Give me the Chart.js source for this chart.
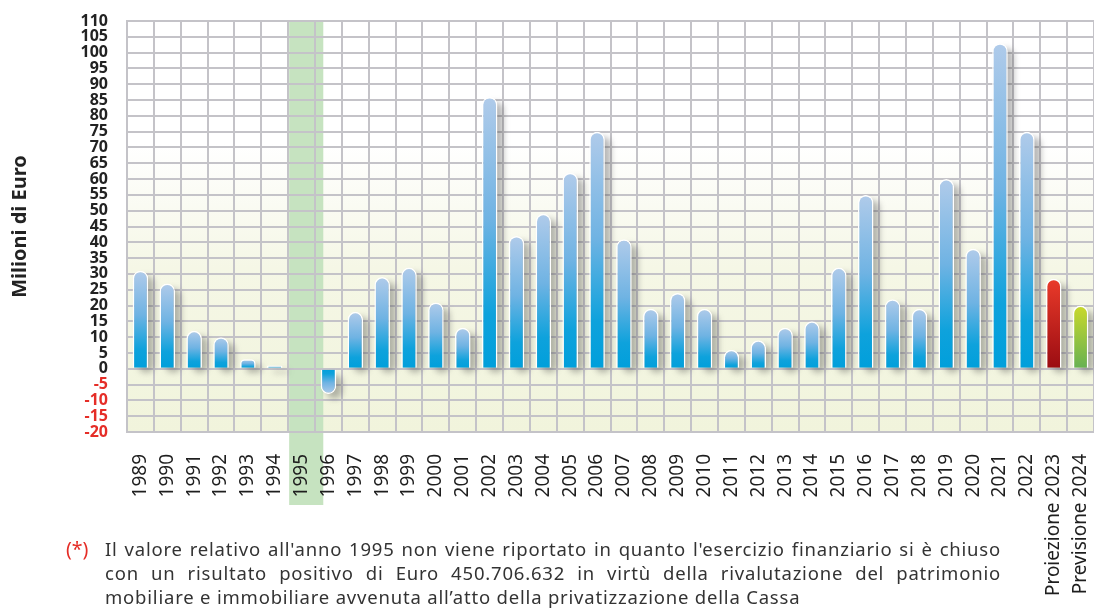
<!DOCTYPE html>
<html>
<head>
<meta charset="utf-8">
<script src="https://cdn.jsdelivr.net/npm/chart.js@4.4.1/dist/chart.umd.min.js"></script>
<style>
  html, body { margin: 0; padding: 0; background: #fff; overflow: hidden; }
  #wrap { position: relative; width: 1094px; height: 608px; }
  #c { position: absolute; left: 0; top: 0; }
  #note { position: absolute; left: 66px; top: 537px; width: 935px; font-family: "Noto Sans", sans-serif; font-size: 18.5px; letter-spacing: 0.8px; line-height: 24px; color: #333; }
  #note .star { position: absolute; left: 0; top: 0; color: #e52d27; letter-spacing: 0; font-size: 19.5px; }
  #note .ln { margin-left: 39px; white-space: nowrap; text-align: justify; text-align-last: justify; }
  #note .ln.last { text-align-last: left; }
</style>
</head>
<body>
<div id="wrap">
  <canvas id="c" width="1094" height="608"></canvas>
  <div id="note">
    <span class="star">(*)</span>
    <div class="ln">Il valore relativo all'anno 1995 non viene riportato in quanto l'esercizio finanziario si è chiuso</div>
    <div class="ln">con un risultato positivo di Euro 450.706.632 in virtù della rivalutazione del patrimonio</div>
    <div class="ln last">mobiliare e immobiliare avvenuta all’atto della privatizzazione della Cassa</div>
  </div>
</div>
<script>
const categories = ['1989','1990','1991','1992','1993','1994','1995','1996','1997','1998','1999','2000','2001','2002','2003','2004','2005','2006','2007','2008','2009','2010','2011','2012','2013','2014','2015','2016','2017','2018','2019','2020','2021','2022','Proiezione 2023','Previsione 2024'];
const values = [31, 27, 12, 10, 3, 1, null, -8, 18, 29, 32, 21, 13, 86, 42, 49, 62, 75, 41, 19, 24, 19, 6, 9, 13, 15, 32, 55, 22, 19, 60, 38, 103, 75, 28.5, 20];
const kinds = categories.map(c => c.startsWith('Proiezione') ? 'projection' : c.startsWith('Previsione') ? 'forecast' : 'actual');
const highlightedCategory = '1995';
const yMin = -20, yMax = 110, yStep = 5;
const axisTitle = 'Milioni di Euro';

const palettes = {
  actual: [[0, '#b0cbea'], [0.45, '#6fb3e3'], [0.8, '#0ea2dc'], [1, '#009fdb']],
  projection: [[0, '#ea3b2a'], [1, '#9a0c12']],
  forecast: [[0, '#cad92b'], [1, '#66b153']]
};

const GRID = '#c4c3c8';

function barColor(ctx) {
  const chart = ctx.chart;
  const y = chart.scales.y;
  const v = ctx.raw;
  if (!y || v == null || !chart.chartArea) return '#00a0dc';
  const tip = y.getPixelForValue(v), base = y.getPixelForValue(0);
  const g = chart.ctx.createLinearGradient(0, tip, 0, base);
  palettes[kinds[ctx.dataIndex]].forEach(([s, c]) => g.addColorStop(s, c));
  return g;
}

const bgPlugin = {
  id: 'bg',
  beforeDraw(chart) {
    const { ctx, chartArea: a, scales: { x } } = chart;
    ctx.save();
    const g = ctx.createLinearGradient(0, a.top, 0, a.bottom);
    g.addColorStop(0, '#ffffff');
    g.addColorStop(0.3, '#ffffff');
    g.addColorStop(0.6, '#f5f7e6');
    g.addColorStop(1, '#f1f4dc');
    ctx.fillStyle = g;
    ctx.fillRect(a.left, a.top, a.right - a.left, a.bottom - a.top);
    const i = categories.indexOf(highlightedCategory);
    const w = x.getPixelForValue(i + 1) - x.getPixelForValue(i);
    const left = x.getPixelForValue(i) - w / 2;
    ctx.fillStyle = '#c6e3c0';
    ctx.fillRect(left + 1, a.top, w * 1.27, 505 - a.top);
    ctx.restore();
  }
};

const shadowPlugin = {
  id: 'shadow',
  beforeDatasetsDraw(chart) {
    const ctx = chart.ctx;
    const meta = chart.getDatasetMeta(0);
    ctx.save();
    ctx.filter = 'blur(3px)';
    ctx.fillStyle = 'rgba(70,70,70,0.38)';
    meta.data.forEach((el, i) => {
      if (values[i] == null) return;
      const top = Math.min(el.y, el.base), h = Math.abs(el.base - el.y);
      const r = Math.min(el.width / 2, h / 2);
      ctx.beginPath();
      ctx.roundRect(el.x - el.width / 2 + 6, top + 5, el.width, h, r);
      ctx.fill();
    });
    ctx.restore();
  }
};

new Chart(document.getElementById('c'), {
  type: 'bar',
  data: {
    labels: categories,
    datasets: [{
      data: values,
      backgroundColor: barColor,
      borderColor: '#ffffff',
      borderWidth: 1.5,
      borderRadius: 20,
      borderSkipped: 'start',
      barPercentage: 0.58,
      categoryPercentage: 1
    }]
  },
  options: {
    responsive: false,
    animation: false,
    devicePixelRatio: 1,
    layout: { padding: { top: 21, right: 0, bottom: 0, left: 0 } },
    plugins: { legend: { display: false }, tooltip: { enabled: false } },
    scales: {
      x: {
        grid: { color: GRID, lineWidth: 2, drawTicks: false, offset: true },
        border: { color: GRID, width: 2 },
        ticks: {
          autoSkip: false, minRotation: 90, maxRotation: 90, padding: 22,
          color: '#1e1e1e', font: { family: 'Noto Sans', size: 19 }
        },
        afterFit(s) { s.height = 176; s.paddingLeft = 0; s.paddingRight = 0; }
      },
      y: {
        min: yMin, max: yMax,
        grid: { color: GRID, lineWidth: 2, drawTicks: false },
        border: { color: GRID, width: 2 },
        ticks: {
          stepSize: yStep, autoSkip: false, padding: 19,
          color: (c) => (c.tick && c.tick.value < 0) ? '#e52d27' : '#222',
          font: { family: 'Noto Sans', size: 16, weight: 'bold' }
        },
        title: {
          display: true, text: axisTitle, color: '#222',
          font: { family: 'Noto Sans', size: 20, weight: 'bold' },
          padding: { top: 8, bottom: 0 }
        },
        afterFit(s) { s.width = 127; s.paddingTop = 0; s.paddingBottom = 0; }
      }
    }
  },
  plugins: [bgPlugin, shadowPlugin]
});
</script>
</body>
</html>
